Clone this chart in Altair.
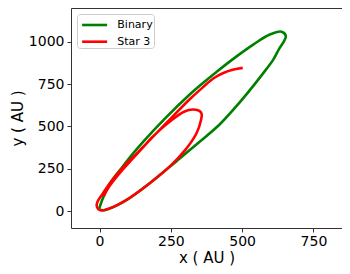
import altair as alt
import pandas as pd

# Binary orbit (closed loop)
binary_x = [-2, 8, 35, 80, 120, 159, 230, 317, 352, 410, 463, 540, 597, 638, 653,
            648, 630, 609, 574, 520, 469, 420, 352, 270, 180, 100, 50, 15, -2]
binary_y = [10, 60, 160, 260, 345, 421, 548, 690, 742, 822, 892, 985, 1043, 1060, 1035,
            1008, 960, 895, 815, 700, 599, 510, 411, 295, 170, 70, 25, 5, 10]

# Star 3 orbit
star3_x = [502, 470, 434, 400, 360, 317, 250, 177, 130, 83, 37, 10, -7, -10, -4, 8,
           45, 90, 165, 250, 300, 340, 356, 358, 350, 330, 310, 290,
           270, 240, 212, 182, 150, 108, 66, 32, 15]
star3_y = [846, 836, 816, 785, 728, 662, 548, 421, 340, 260, 165, 100, 55, 32, 10, 3,
           22, 62, 150, 270, 360, 460, 540, 575, 592, 600, 596, 582,
           559, 520, 480, 432, 372, 295, 215, 140, 90]

x_ticks = [0, 250, 500, 750]
y_ticks = [0, 250, 500, 750, 1000]

rows = []
for i, (x, y) in enumerate(zip(binary_x, binary_y)):
    rows.append({"series": "Binary", "i": i, "x": x, "y": y})
for i, (x, y) in enumerate(zip(star3_x, star3_y)):
    rows.append({"series": "Star 3", "i": i, "x": x, "y": y})
df = pd.DataFrame(rows)

chart = alt.Chart(df).mark_line(strokeWidth=2.6, interpolate="catmull-rom").encode(
    x=alt.X("x:Q", scale=alt.Scale(domain=[-100, 850], nice=False, zero=False),
            axis=alt.Axis(values=x_ticks, title="x ( AU )", grid=False, format="d")),
    y=alt.Y("y:Q", scale=alt.Scale(domain=[-100, 1200], nice=False, zero=False),
            axis=alt.Axis(values=y_ticks, title="y ( AU )", grid=False, format="d")),
    color=alt.Color("series:N",
                    scale=alt.Scale(domain=["Binary", "Star 3"], range=["#008000", "#ff0000"]),
                    legend=alt.Legend(title=None, orient="top-left",
                                      symbolType="M-1.5,0H1.5",
                                      symbolSize=278, symbolStrokeWidth=2.6,
                                      symbolOffset=6.6,
                                      labelFontSize=11, labelFont="DejaVu Sans",
                                      labelColor="black", labelOffset=12.7,
                                      padding=1, offset=6, rowPadding=0.7,
                                      fillColor="white", strokeColor="#cccccc",
                                      cornerRadius=3)),
    order="i:Q",
    detail="series:N",
).properties(
    width=271, height=220,
    autosize=alt.AutoSizeParams(type="none"),
    padding={"left": 63, "top": 0, "right": 0, "bottom": 38},
).configure_view(
    stroke="#333333", strokeWidth=1
).configure_axis(
    domain=False, labelFont="DejaVu Sans", titleFont="DejaVu Sans",
    labelFontSize=14, titleFontSize=15, labelColor="black", titleColor="black",
    titleFontWeight="normal", tickColor="#333333", tickSize=4, tickWidth=1,
    labelPadding=2
).configure_axisY(
    labelPadding=3, titlePadding=3
).configure_axisX(
    titlePadding=2
)

chart.save("out.html", embed_options={"renderer": "svg", "actions": False})
